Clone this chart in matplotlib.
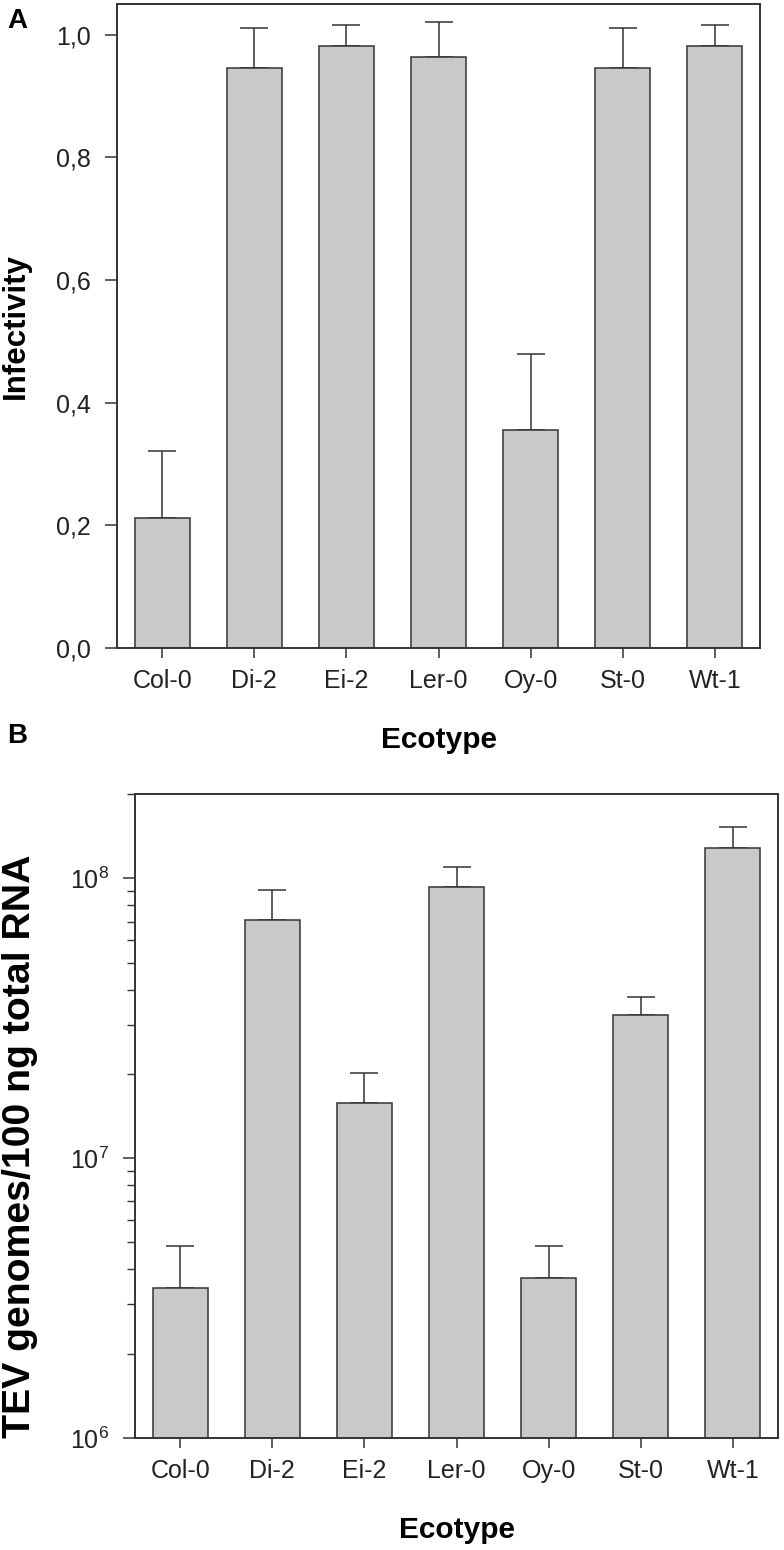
import matplotlib
matplotlib.use("Agg")
import matplotlib.pyplot as plt
import numpy as np
from matplotlib.ticker import LogLocator, FixedLocator, NullFormatter, FuncFormatter

plt.rcParams['font.family'] = ['Liberation Sans', 'DejaVu Sans']

ecotypes = ["Col-0", "Di-2", "Ei-2", "Ler-0", "Oy-0", "St-0", "Wt-1"]
infectivity = [0.212, 0.946, 0.982, 0.964, 0.356, 0.946, 0.982]
infectivity_err = [0.109, 0.065, 0.033, 0.057, 0.124, 0.065, 0.033]

genomes = [3.43e6, 7.08e7, 1.57e7, 9.29e7, 3.73e6, 3.24e7, 1.28e8]
genomes_upper = [4.85e6, 9.06e7, 2.01e7, 1.10e8, 4.85e6, 3.76e7, 1.53e8]

W, H = 784, 1550
fig = plt.figure(figsize=(W / 100, H / 100), dpi=100)

def px_axes(l, t, r, b):
    return fig.add_axes([l / W, 1 - b / H, (r - l) / W, (b - t) / H])

dark = "#333333"
barcol = "#c8c9cb"
x = np.arange(len(ecotypes))

def style(ax):
    for s in ax.spines.values():
        s.set_linewidth(1.4)
        s.set_color(dark)
    ax.tick_params(axis='both', which='major', direction='out', length=9,
                   width=1.1, color=dark, labelsize=18, labelcolor="#222222")
    ax.tick_params(axis='y', which='major', pad=10)
    ax.tick_params(axis='x', which='major', length=7, pad=8)

# Panel A
axA = px_axes(117, 4, 760, 648)
axA.bar(x, infectivity, width=0.6, color=barcol, edgecolor=dark, linewidth=1.1, zorder=2)
axA.errorbar(x, infectivity, yerr=[np.zeros(len(x)), infectivity_err], fmt='none',
             ecolor=dark, elinewidth=1.1, capsize=10, capthick=1.1, zorder=1)
axA.set_xlim(-0.49, 6.49)
axA.set_ylim(0, 1.05)
axA.set_yticks([0, 0.2, 0.4, 0.6, 0.8, 1.0])
axA.set_yticklabels(["0,0", "0,2", "0,4", "0,6", "0,8", "1,0"])
axA.set_xticks(x)
axA.set_xticklabels(ecotypes)
style(axA)
axA.set_ylabel("Infectivity", fontsize=22.5, fontweight='bold')
axA.yaxis.set_label_coords((31 - 117) / 643, 0.5)
axA.set_xlabel("Ecotype", fontsize=21.5, fontweight='bold', labelpad=24)

# Panel B
axB = px_axes(135, 794, 778, 1438)
axB.set_yscale('log')
axB.bar(x, genomes, width=0.6, color=barcol, edgecolor=dark, linewidth=1.1, zorder=2)
up = np.array(genomes_upper) - np.array(genomes)
axB.errorbar(x, genomes, yerr=[np.zeros(len(x)), up], fmt='none',
             ecolor=dark, elinewidth=1.1, capsize=10, capthick=1.1, zorder=1)
axB.set_xlim(-0.49, 6.49)
axB.set_ylim(1e6, 2e8)
axB.yaxis.set_major_locator(FixedLocator([1e6, 1e7, 1e8]))
axB.yaxis.set_major_formatter(FuncFormatter(lambda v, p: r"$\mathdefault{10^{%d}}$" % round(np.log10(v))))
axB.yaxis.set_minor_locator(LogLocator(base=10, subs=np.arange(2, 10)))
axB.yaxis.set_minor_formatter(NullFormatter())
axB.set_xticks(x)
axB.set_xticklabels(ecotypes)
style(axB)
axB.tick_params(axis='y', which='minor', direction='out', length=6, width=1.0, color=dark)
axB.set_ylabel("TEV genomes/100 ng total RNA", fontsize=28.3, fontweight='bold')
axB.yaxis.set_label_coords((38 - 135) / 643, (1438 - 1146) / 644)
axB.set_xlabel("Ecotype", fontsize=21.5, fontweight='bold', labelpad=24)

fig.text(7 / W, 1 - 8 / H, "A", fontsize=20, fontweight='bold', ha='left', va='top')
fig.text(7 / W, 1 - 723 / H, "B", fontsize=20, fontweight='bold', ha='left', va='top')

fig.savefig("out.png", dpi=100, facecolor="white")
